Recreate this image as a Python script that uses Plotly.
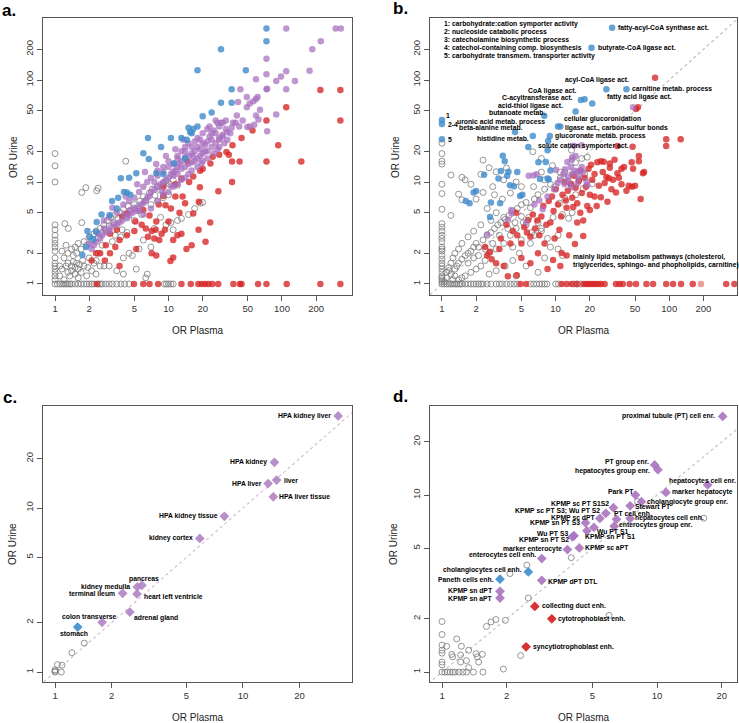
import math
import plotly.graph_objects as go

W, H = 739, 723

# ---------------- Panel a data (OR Plasma, OR Urine) ----------------
a_gray_row = [1, 1.05, 1.1, 1.15, 1.2, 1.25, 1.3, 1.35, 1.4, 1.5, 1.6, 1.7, 1.8, 1.9, 2.0, 2.1,
              2.2, 2.4, 2.5, 2.6, 2.8, 3.0, 3.2, 3.5, 3.8, 4.1, 4.5, 9.2, 9.6, 10.0, 10.5, 11.0]
a_gray_col = [1.1, 1.2, 1.3, 1.4, 1.5, 1.6, 1.8, 2.1, 2.3, 2.5, 2.7, 3.0, 3.4, 3.8, 10, 14.4, 19]
a_gray = [(1.1, 1.2), (1.15, 1.4), (1.2, 1.1), (1.25, 1.5), (1.3, 1.3), (1.3, 1.6), (1.35, 1.2), (1.4, 1.5),
          (1.4, 1.35), (1.45, 1.65), (1.5, 1.25), (1.5, 1.45), (1.55, 1.6), (1.6, 1.4), (1.6, 1.15), (1.65, 1.55),
          (1.7, 1.3), (1.75, 1.7), (1.8, 1.5), (1.9, 1.2), (1.95, 1.45), (2.0, 1.8), (2.1, 1.35), (2.2, 1.6),
          (2.3, 1.25), (2.4, 2.0), (2.5, 1.5), (1.3, 2.0), (1.4, 2.2), (1.5, 2.3), (1.6, 2.5), (1.7, 2.2),
          (1.8, 2.6), (1.9, 2.4), (2.0, 2.9), (2.1, 2.7), (2.2, 3.1), (2.3, 3.3), (2.4, 2.8), (2.5, 3.5),
          (2.6, 3.2), (2.7, 3.8), (2.8, 3.4), (2.9, 4.2), (3.0, 3.7), (3.1, 4.5), (3.3, 4.0), (3.4, 4.8),
          (3.6, 4.4), (3.8, 5.0), (4.0, 5.4), (4.2, 4.6), (4.4, 5.8), (4.6, 5.2), (5.0, 6.0), (5.3, 5.6),
          (5.6, 6.5), (6.0, 7.2), (6.3, 6.6), (6.8, 7.8), (7.2, 8.5), (7.6, 7.4), (8.0, 9.0), (8.5, 8.3),
          (9.0, 9.6), (9.5, 10.2), (10.2, 9.5), (11, 10.5), (3.0, 1.5), (3.5, 1.35), (4.0, 1.8), (4.5, 2.0),
          (4.8, 1.9), (5.5, 2.2), (6.5, 1.25), (5.2, 1.4), (7, 2.3), (7.5, 3.5), (8.5, 4.5), (9.5, 3.8),
          (10.5, 4.0), (11, 3.4), (12, 4.2), (13, 4.4), (15, 4.8), (17, 5.5), (19, 6.2), (20, 6.3),
          (3.8, 2.9), (4.3, 3.2), (2.7, 1.5), (2.3, 1.7), (6.3, 1.15), (4.0, 1.25), (1.22, 3.9), (1.31, 3.5),
          (1.72, 4.0), (1.72, 7.9), (1.87, 8.8), (2.33, 8.2), (2.4, 8.7), (4.2, 16), (3.4, 3.0), (3.9, 3.4),
          (1.2, 1.8), (1.1, 1.5), (1.25, 2.4), (1.15, 2.1), (1.45, 1.9), (1.55, 2.0), (2.6, 2.4), (3.2, 2.6),
          (6.0, 2.7), (7.0, 6.0), (8.0, 6.5), (9.0, 7.0), (10.0, 7.5), (5.0, 4.2), (5.8, 4.8), (12, 9.3)]
a_blue = [(73, 320), (73, 240), (29, 200), (18, 125), (48, 125), (36, 81), (36, 60), (29, 60), (24, 48),
          (20, 44), (18, 35), (15, 34), (16, 30), (13, 27), (10.5, 27), (6.6, 27), (8.6, 22), (6.0, 19.1),
          (6.7, 16.8), (11.2, 15.3), (5.2, 12.2), (7.8, 12.2), (3.8, 10.9), (4.5, 11), (4.05, 8.0), (4.3, 7.9),
          (4.6, 7.5), (3.6, 7.0), (3.18, 6.5), (2.57, 4.8), (3.03, 4.75), (2.33, 4.05), (2.3, 3.26), (1.93, 3.3),
          (2.02, 2.9), (2.17, 2.74), (1.74, 1.92), (1.88, 2.3), (3.5, 5.5), (9, 12), (14, 17), (15.5, 31),
          (16.5, 33), (14.5, 26)]
a_purple = [(109, 320), (297, 320), (330, 320), (220, 240), (185, 200), (73, 162), (175, 123), (109, 122),
            (73, 114), (130, 98), (89, 98), (98, 108), (59, 102), (73, 81), (74, 82), (109, 81), (43, 81),
            (61, 68), (59, 65), (56, 62), (52, 59), (49, 54), (49, 68), (41, 61), (64, 51), (89, 46), (59, 45),
            (62, 41), (57, 36.5), (52, 35), (49.5, 34.6), (74, 31.4), (32, 40), (29, 38), (27, 38), (39, 38),
            (42, 35), (36, 34), (33, 31), (30, 29), (28, 27), (26, 30), (24, 26), (22, 25), (21, 23), (20, 24),
            (19, 21), (18, 22), (17, 20), (16, 19), (15, 18), (14, 17.5), (13, 16), (12.5, 15), (12, 14),
            (11.5, 13), (11, 12.5), (10.5, 12), (10, 11), (9.5, 10.5), (9, 10), (8.5, 9.5), (8, 9), (7.5, 8.5),
            (7, 8), (6.8, 7.3), (6.5, 7), (6.2, 6.5), (6, 6.2), (5.7, 6), (5.5, 5.5), (5.2, 5.2), (5, 5.6),
            (4.8, 5), (4.6, 5.3), (4.5, 4.7), (4.3, 4.4), (4.1, 4.8), (3.9, 4.2), (3.7, 4), (3.5, 3.8), (3.3, 3.9),
            (3.1, 3.6), (3, 3.3), (2.8, 3.2), (2.7, 3.5), (2.6, 3.0), (2.5, 2.8), (2.4, 3.1), (2.3, 2.6),
            (2.2, 2.4), (2.1, 2.2), (2.0, 2.5), (6.5, 10), (7, 11), (8, 13), (9, 14), (10, 16), (11, 15),
            (12, 18), (13, 20), (14, 22), (15, 24), (16, 22), (17, 25), (18, 27), (20, 30), (22, 33), (25, 32),
            (28, 35), (23, 28), (19, 26), (14, 20), (12, 17), (10, 14), (9, 12.5), (8, 11.5), (7.5, 10), (6, 9),
            (5.5, 8), (5, 7), (4.5, 6.5), (4, 6), (3.5, 5), (3, 4.5), (5.5, 5.2), (12, 12), (11, 11.5),
            (13, 13.5), (14, 14), (15, 15), (16, 15.5), (17, 16), (18, 17), (19, 18), (20, 19), (22, 20),
            (24, 22), (26, 24), (28, 26), (30, 28), (32, 33), (24, 30), (21, 20), (15, 12), (13, 10.5), (11, 9),
            (9, 7.5), (8, 6.5), (7, 5.5), (6, 4.8), (10, 8), (12, 9.5), (14, 11), (16, 13), (18, 14), (20, 16),
            (22, 17), (25, 19), (28, 22), (33, 26), (35, 30), (37, 38), (40, 45), (45, 40), (30, 38), (26, 40),
            (23, 35), (4.2, 7.2), (5.3, 9.5), (6.2, 12.5), (7.8, 15), (9.5, 18), (11.5, 21), (13.5, 26),
            (3.2, 5.6), (2.7, 4.2), (8.8, 8.2), (10.5, 9.2), (16.5, 17.8), (19.5, 15.2), (27, 21), (31, 24)]
a_red_row = [2.33, 4.96, 6.0, 6.8, 8.1, 13, 15.7, 18.3, 19.6, 21, 22.4, 24.3, 27.4, 37.3, 42.5, 44,
             61.5, 73, 110, 218, 327]
a_red = [(327, 80), (218, 80), (109, 54), (327, 40), (73, 40), (55, 32), (44, 27), (36.6, 22.9), (32.4, 19.7),
         (34, 18.5), (92.6, 22.9), (148, 15.9), (73, 15.9), (36.3, 15.9), (42.3, 15.9), (36.3, 10), (27.5, 8.1),
         (28, 18.5), (23.4, 15.2), (15.2, 10), (18.9, 8.9), (19, 12.9), (16.5, 11.3), (14.7, 15.9), (13, 10.8),
         (9.0, 7.3), (11.5, 7.2), (13.3, 7.2), (24.5, 17.7), (18.5, 6.4), (16.5, 4.9), (23.3, 4.0), (18.4, 3.4),
         (21.2, 2.6), (16, 2.4), (14.4, 2.2), (13, 3.1), (12, 3), (11, 2.7), (11, 1.82), (10.4, 1.68), (10, 4.1),
         (9.3, 3.4), (7.7, 3.4), (7.1, 3.3), (6.6, 2.9), (6.3, 3.5), (7.5, 2.8), (8.3, 2.7), (7.1, 2.0),
         (7.8, 1.9), (5.1, 4.1), (9.4, 5.9), (5, 3.3), (5.2, 2.2), (4.3, 3.0), (3.7, 2.7), (3.7, 1.5), (3.4, 2.3),
         (3.05, 2.0), (3.05, 3.1), (2.75, 1.7), (2.5, 2.0), (2.1, 1.7), (3.5, 3.4), (3.9, 4.6), (6, 5.3),
         (6.8, 4.7), (7.8, 4.1), (8.7, 3.1), (4.3, 4.9), (8.2, 6.0), (10.5, 5.5), (12.5, 5.0), (2.8, 2.4),
         (2.3, 2.0), (5.8, 3.8), (9, 9.0), (11.5, 9.5), (20, 13.5), (14, 6.2)]

# ---------------- Panel b data ----------------
b_gray_row = [1.05, 1.1, 1.15, 1.2, 1.25, 1.3, 1.35, 1.4, 1.45, 1.5, 1.6, 1.7, 1.8, 1.9, 2.0, 2.1, 2.2,
              2.3, 2.5, 2.7, 3.0, 3.2, 3.4, 3.7, 4.0, 4.3, 4.6, 6.0, 6.4, 6.8, 7.2, 7.6, 8.0, 8.4, 10,
              10.6, 14.5, 15.5, 16.5]
b_gray_col = [1, 1.05, 1.1, 1.15, 1.2, 1.3, 1.4, 1.5, 1.6, 1.75, 1.9, 2.1, 2.2, 2.3, 2.6, 2.8, 3.0, 3.3,
              3.6, 3.9, 5.4, 7.7, 9.5, 15, 16, 19, 24]
b_gray = [(1.2, 11.7), (1.5, 11.1), (2.2, 11.9), (3.0, 12.6), (3.7, 13.7), (2.3, 16.4), (2.6, 13.8),
          (2.3, 7.9), (2.0, 6.8), (1.4, 7.6), (1.5, 6.7), (1.2, 4.7), (2.9, 7.5), (3.4, 6.8), (4.0, 7.8),
          (6.4, 9), (9.4, 14.5), (6.3, 19.8), (13.8, 20.5), (7.5, 12.5), (8.0, 10.5), (5.0, 9.0), (4.5, 10.0),
          (3.5, 10.5), (2.8, 9.0), (1.8, 9.5), (1.6, 10.5), (2.5, 5.5), (3.0, 5.0), (3.5, 4.5), (2.7, 4.2),
          (2.2, 3.8), (1.9, 3.3), (1.7, 2.9), (1.5, 2.5), (1.4, 2.2), (1.3, 2.0), (1.25, 1.8), (1.2, 1.6),
          (1.15, 1.45), (1.1, 1.3), (1.3, 1.4), (1.4, 1.6), (1.5, 1.75), (1.6, 1.9), (1.7, 2.0), (1.8, 2.1),
          (1.9, 2.3), (2.0, 2.5), (2.1, 2.3), (2.3, 2.7), (2.5, 3.0), (2.7, 3.2), (2.9, 3.5), (3.1, 3.8),
          (3.3, 4.0), (3.6, 4.3), (3.9, 4.7), (4.2, 5.2), (4.6, 5.5), (5.0, 6.0), (5.5, 6.3), (6.0, 5.6),
          (6.5, 6.8), (7.0, 7.5), (8, 8.5), (9, 9.5), (10, 9), (11, 11), (12, 12.5), (13, 11.5), (4.0, 3.0),
          (4.5, 3.5), (5.2, 4.0), (5.8, 4.5), (6.2, 3.2), (7.0, 4.0), (7.5, 3.5), (8.5, 2.8), (9.5, 4.5),
          (10.5, 3.0), (11.5, 4.8), (13, 4.4), (14, 5.0), (3.5, 2.5), (3.0, 2.2), (2.6, 2.0), (2.4, 1.7),
          (2.2, 1.5), (2.0, 1.4), (1.8, 1.3), (1.6, 1.2), (1.5, 1.15), (1.4, 1.1), (1.3, 1.2), (1.7, 1.6),
          (1.9, 1.8), (2.1, 1.9), (2.4, 2.2), (2.8, 2.5), (3.2, 3.0), (3.8, 3.5), (4.4, 4.0), (5.0, 4.6),
          (5.5, 3.8), (6.0, 2.5), (4.8, 2.0), (4.2, 1.7), (3.6, 1.5), (3.0, 1.35), (2.6, 1.25), (4.5, 1.2),
          (5.5, 1.5), (7.0, 1.3), (8.0, 1.8), (10.5, 2.2), (11.5, 1.9), (9, 2.3), (5, 2.7), (6.5, 3.0),
          (7.5, 3.3), (4.2, 2.3), (17, 17), (19, 17.5), (15, 15.5), (21, 9.6), (17.5, 8.6), (13.8, 9.2),
          (12, 7), (10.8, 6.2), (15, 7.5), (16, 10.5), (18, 12), (7.5, 17), (11, 12.5), (1.05, 1.05),
          (1.1, 1.15), (1.2, 1.25), (1.15, 1.35), (1.35, 1.5), (1.25, 1.1)]
b_blue = [(3.43, 18.1), (3.57, 16), (3.85, 12.6), (3.75, 11.5), (3.14, 10.8), (3.97, 9.3), (4.3, 9.1),
          (2.35, 11.8), (2.0, 8.15), (1.9, 7.9), (1.62, 6.5), (1.75, 6.2), (4.87, 7.3), (5.1, 7.5),
          (3.25, 6.2), (2.65, 4.55), (2.7, 6.3), (7.06, 15.6), (8.5, 20.5), (8.2, 15.7), (7.3, 10.7),
          (8.5, 10.8), (8.7, 10.6), (8.6, 25.3), (5.75, 22), (6.3, 28.3), (8.9, 28.3), (10.5, 35), (11, 35),
          (4.4, 31), (7.95, 44.7), (15, 49), (21, 59), (16.7, 63.7), (18, 64.6), (28, 81), (42, 81),
          (20.7, 207), (31.4, 326), (1, 40.5), (1, 37), (1, 26.2), (4.6, 12.5), (3.3, 12.8), (9, 13)]
b_purple = [(48, 54), (16.9, 22.9), (14.5, 22.7), (14, 17.5), (12.7, 15.7), (13.6, 14.1), (14.6, 12.9),
            (15.4, 12.6), (16.4, 12.9), (12.1, 13.3), (11.7, 12), (12.9, 11.1), (15.6, 9.7), (18.7, 10.1),
            (19, 9.3), (13.8, 8.9), (7.7, 5.4), (5.8, 11.5), (6.4, 11.6), (6.8, 11.9), (10.1, 13.1),
            (13.9, 16.5), (4.06, 5.3), (3.8, 4.3), (4.1, 4.9), (2.5, 3.06), (9.7, 8.5), (10.4, 9.8),
            (15, 18), (17, 14), (11, 10.5), (12, 9.5), (16, 11.2), (17.5, 12.5), (6.5, 6.0), (7.2, 6.6),
            (5.5, 4.0), (13, 10), (14, 12), (8.5, 7.2)]
b_red_row = [4.9, 5.5, 11.3, 12.5, 13.8, 15.3, 17.5, 18.5, 19.3, 20.3, 21.3, 22.4, 23.6, 25, 27, 34, 36.5,
             39, 44.8, 51, 63, 72, 94, 108, 127, 161, 317, 374]
b_red_faint = [(190, 1)]
b_red = [(126, 26.2), (94, 26.2), (94, 22.6), (47.6, 22.2), (35, 22.5), (53, 54), (75, 105), (51, 52),
         (26.5, 15.8), (23.3, 15.6), (20.5, 14.8), (30, 15.2), (46.7, 15.6), (54, 16), (54, 18), (58.7, 12.2),
         (35, 12.2), (38, 13.5), (29.4, 10.9), (32, 10.5), (44, 9.2), (47, 9), (34, 7.9), (56, 6.8),
         (28.6, 6.4), (25, 7.1), (22, 7.2), (20, 5.3), (16.5, 5), (15.5, 4), (14.3, 5.7), (12.5, 5.6),
         (14.8, 2.47), (17.5, 2.95), (11.3, 2.01), (9.5, 1.72), (11, 1.5), (2.65, 2.07), (2.74, 1.75),
         (3.2, 2.2), (3.8, 1.19), (4.55, 1.22), (3.7, 3.8), (4.5, 5.0), (5.75, 4.24), (2.4, 2.3), (2.5, 1.9),
         (3.0, 1.6), (3.5, 1.5), (3.3, 2.8), (4.0, 2.5), (4.2, 3.3), (4.6, 3.0), (5.0, 2.5), (5.3, 3.6),
         (5.6, 3.2), (6.0, 2.9), (6.3, 4.8), (6.6, 3.5), (6.9, 4.2), (7.2, 3.0), (7.5, 4.6), (7.8, 5.8),
         (8.0, 2.5), (8.3, 3.8), (8.7, 6.5), (9.0, 4.0), (9.3, 7.2), (9.6, 5.2), (10.0, 8.5), (10.5, 6.0),
         (10.8, 3.4), (11.2, 4.6), (11.5, 7.5), (12.0, 10.0), (12.3, 6.6), (12.8, 8.2), (13.2, 3.0),
         (13.6, 9.6), (14.0, 7.0), (14.5, 11.5), (15.0, 8.8), (15.5, 6.2), (16.0, 10.2), (16.5, 13.0),
         (17.0, 7.8), (17.5, 4.2), (18.0, 11.0), (18.5, 9.0), (19.0, 5.8), (19.5, 13.5), (20.0, 7.5),
         (21.0, 10.5), (22.0, 12.0), (23.0, 5.8), (24.0, 9.2), (25.0, 16.0), (26.0, 12.5), (27.0, 9.8),
         (28.0, 11.2), (30.0, 13.8), (31.0, 8.5), (33.0, 16.5), (36.0, 11.0), (38.0, 9.5), (40.0, 14.0),
         (42.0, 8.2), (48.0, 13.5), (50.0, 9.2), (60, 12.5), (9.8, 2.8), (7.0, 2.0), (6.0, 1.6), (5.0, 1.8),
         (12.5, 1.9), (8.5, 1.4)]
b_legend = ["1: carbohydrate:cation symporter activity",
            "2: nucleoside catabolic process",
            "3: catecholamine biosynthetic process",
            "4: catechol-containing comp. biosynthesis",
            "5: carbohydrate transmem. transporter activity"]
# label text, anchor position (OR Plasma, OR Urine), alignment
b_labels = [("fatty-acyl-CoA synthase act.", 34, 326, "left"),
            ("butyrate-CoA ligase act.", 22.7, 207, "left"),
            ("acyl-CoA ligase act.", 23.2, 100, "center"),
            ("CoA ligase act.", 16.2, 78.5, "right"),
            ("carnitine metab. process", 45.2, 81, "left"),
            ("C-acyltransferase act.", 14.8, 67, "right"),
            ("fatty acid ligase act.", 27, 67.6, "left"),
            ("acid-thiol ligase act.", 12.2, 56, "right"),
            ("butanoate metab.", 8.45, 47.8, "right"),
            ("uronic acid metab. process", 8.45, 38.5, "right"),
            ("beta-alanine metab.", 5.35, 34.1, "right"),
            ("cellular glucoronidation", 11.4, 41.5, "left"),
            ("ligase act., carbon-sulfur bonds", 11.6, 34.1, "left"),
            ("histidine metab.", 6.1, 26.8, "right"),
            ("glucoronate metab. process", 9.5, 28.4, "left"),
            ("solute cation symporter act.", 6.77, 22.7, "left"),
            ("1", 1.04, 45, "left"),
            ("2-4", 1.08, 37, "left"),
            ("5", 1.08, 26, "left"),
            ("mainly lipid metabolism pathways (cholesterol,", 13.7, 1.85, "left"),
            ("triglycerides, sphingo- and phopholipids, carnitine)", 13.7, 1.54, "left")]

# ---------------- Panel c data ----------------
c_names = ["HPA kidney liver", "HPA kidney", "liver", "HPA liver", "HPA liver tissue", "HPA kidney tissue",
           "kidney cortex", "pancreas", "kidney medulla", "terminal ileum", "heart left ventricle",
           "adrenal gland", "colon transverse"]
c_plasma = [32.1, 14.7, 15.1, 13.6, 14.5, 7.96, 5.89, 2.9, 2.74, 2.29, 2.73, 2.5, 1.78]
c_urine = [36.4, 19.0, 14.8, 14.1, 11.7, 8.9, 6.52, 3.38, 3.3, 3.02, 2.99, 2.32, 2.01]
c_blue_names = ["stomach"]
c_blue_plasma = [1.32]
c_blue_urine = [1.88]
c_gray = [(1.43, 1.5), (1.23, 1.31), (1.03, 1.11), (1.09, 1.1), (1.0, 1.03), (1.0, 1.0), (1.08, 1.0),
          (1.0, 1.01)]
c_lab_pos = {"HPA kidney liver": ("right", -5, 0), "HPA kidney": ("right", -5, 0), "liver": ("left", 5, 0),
             "HPA liver": ("right", -4.5, 0), "HPA liver tissue": ("left", 4, 0),
             "HPA kidney tissue": ("right", -4.5, 0), "kidney cortex": ("right", -5, 0),
             "pancreas": ("center", 2, 6.5), "kidney medulla": ("right", -5, 0),
             "terminal ileum": ("right", -6, 0), "heart left ventricle": ("left", 4.7, -2.7),
             "adrenal gland": ("left", 1.7, -6.3), "colon transverse": ("center", -13, 6),
             "stomach": ("center", -4, -6.3)}

# ---------------- Panel d data ----------------
d_names = ["proximal tubule (PT) cell enr.", "PT group enr.", "hepatocytes group enr.", "hepatocytes cell enr.",
           "marker hepatocyte", "Park PT", "cholangiocyte group enr.", "Stewart PT", "KPMP sc PT S1S2",
           "KPMP sc PT S3; Wu PT S2", "PT cell enh.", "KPMP sc dPT", "hepatocytes cell enh.", "KPMP sn PT S3",
           "enterocytes group enr.", "Wu PT S1", "KPMP sn PT S1", "Wu PT S3", "KPMP sn PT S2",
           "marker enterocyte", "KPMP sc aPT", "enterocytes cell enh.", "KPMP dPT DTL", "KPMP sn dPT",
           "KPMP sn aPT"]
d_plasma = [20.2, 9.75, 10.1, 17.2, 11.0, 7.94, 8.46, 7.5, 6.27, 5.78, 6.48, 5.42, 7.5, 4.65, 6.32, 5.09,
            4.72, 4.11, 4.04, 3.83, 4.35, 2.91, 2.91, 1.86, 1.86]
d_urine = [27.8, 14.8, 13.9, 11.4, 10.35, 10.0, 9.17, 8.7, 8.48, 7.88, 7.31, 7.38, 7.38, 6.97, 6.67, 6.56,
           6.28, 5.89, 5.81, 4.92, 5.03, 4.38, 3.3, 2.86, 2.62]
d_blue_names = ["cholangiocytes cell enh.", "Paneth cells enh."]
d_blue_plasma = [2.52, 1.86]
d_blue_urine = [3.68, 3.35]
d_red_names = ["collecting duct enh.", "cytotrophoblast enh.", "syncytiotrophoblast enh."]
d_red_plasma = [2.7, 3.24, 2.46]
d_red_urine = [2.35, 2.0, 1.39]
d_gray = [(2.48, 4.02), (3.99, 4.43), (2.07, 3.6), (2.52, 2.62), (5.98, 2.09), (16.5, 7.4), (1, 1.93),
          (1, 1.63), (1, 1.42), (1, 1.33), (1, 1.28), (1, 1.14), (1, 1.1), (1.05, 1.4), (1.17, 1.54),
          (1.23, 1.4), (1.33, 1.33), (1.11, 1.26), (1.12, 1.22), (1.22, 1.25), (1.22, 1.14), (1.3, 1.16),
          (1.44, 1.27), (1.46, 1.22), (1.48, 1.14), (1.54, 1.26), (1.33, 1.06), (1.61, 1.81), (1.69, 1.92),
          (1.78, 1.98), (1.97, 1.96), (1.93, 1.04), (2.32, 1.24), (1, 1), (1.03, 1), (1.06, 1), (1.09, 1),
          (1.12, 1), (1.15, 1), (1.2, 1), (1.25, 1), (1.3, 1), (1.4, 1), (1.55, 1), (8.1, 9.2)]
d_lab_pos = {"proximal tubule (PT) cell enr.": ("right", -6, 0), "PT group enr.": ("right", -4, 3.3),
             "hepatocytes group enr.": ("right", -5.6, -1), "hepatocytes cell enr.": ("center", -5, 4),
             "marker hepatocyte": ("left", 4, 0), "Park PT": ("right", 1, 4),
             "cholangiocyte group enr.": ("left", 3.3, 0), "Stewart PT": ("left", 3, -0.6),
             "KPMP sc PT S1S2": ("right", -2.7, 4), "KPMP sc PT S3; Wu PT S2": ("right", -3.7, 2.3),
             "PT cell enh.": ("left", -4.4, 5.3), "KPMP sc dPT": ("right", -2.3, 1.3),
             "hepatocytes cell enh.": ("left", 3.3, 0), "KPMP sn PT S3": ("right", -3.4, 0),
             "enterocytes group enr.": ("left", 3, 1), "Wu PT S1": ("left", 0.7, -3.7),
             "KPMP sn PT S1": ("left", -3.7, -6), "Wu PT S3": ("right", -4, 2.4),
             "KPMP sn PT S2": ("right", -1.3, -2.6), "marker enterocyte": ("right", -3, 1),
             "KPMP sc aPT": ("left", 4, 0), "enterocytes cell enh.": ("right", -3.4, 3.3),
             "cholangiocytes cell enh.": ("right", -4, 2.4), "Paneth cells enh.": ("right", -4, 0),
             "KPMP dPT DTL": ("left", 4.3, -1), "KPMP sn dPT": ("right", -5, 1),
             "KPMP sn aPT": ("right", -5, 0), "collecting duct enh.": ("left", 5.3, 0),
             "cytotrophoblast enh.": ("left", 4.3, 0), "syncytiotrophoblast enh.": ("left", 4.7, 0)}

tick_ab = [1, 2, 5, 10, 20, 50, 100, 200]
tick_cd = [1, 2, 5, 10, 20]

# ---------------- styling ----------------
BLUE = "rgba(66,140,202,0.82)"
PURPLE = "rgba(168,110,190,0.72)"
RED = "rgba(214,36,36,0.78)"
GRAY = "rgba(125,125,125,0.9)"
LAB_FONT = dict(family="Liberation Sans, Arial", size=6.8, color="black")

fig = go.Figure()


def add_filled(xs, ys, color, xa, ya, size=6.5, symbol="circle"):
    fig.add_trace(go.Scatter(x=xs, y=ys, mode="markers", xaxis=xa, yaxis=ya, showlegend=False,
                             hoverinfo="skip",
                             marker=dict(size=size, color=color, symbol=symbol, line=dict(width=0))))


def add_open(xs, ys, xa, ya, size=6):
    fig.add_trace(go.Scatter(x=xs, y=ys, mode="markers", xaxis=xa, yaxis=ya, showlegend=False,
                             hoverinfo="skip",
                             marker=dict(size=size, color=GRAY, symbol="circle-open",
                                         line=dict(width=0.9, color=GRAY))))


def add_diag(xa, ya, color):
    fig.add_trace(go.Scatter(x=[0.5, 1000], y=[0.5, 1000], mode="lines", xaxis=xa, yaxis=ya,
                             showlegend=False, hoverinfo="skip",
                             line=dict(color=color, width=1.2, dash="dot")))


def xs_ys(pts):
    return [p[0] for p in pts], [p[1] for p in pts]


# panel a
g = a_gray + [(x, 1) for x in a_gray_row] + [(1, y) for y in a_gray_col]
add_open(*xs_ys(g), "x", "y")
add_filled(*xs_ys(a_red + [(x, 1) for x in a_red_row]), RED, "x", "y")
add_filled(*xs_ys(a_purple), PURPLE, "x", "y")
add_filled(*xs_ys(a_blue), BLUE, "x", "y")

# panel b
add_diag("x2", "y2", "rgba(185,185,185,0.9)")
g = b_gray + [(x, 1) for x in b_gray_row] + [(1, y) for y in b_gray_col]
add_open(*xs_ys(g), "x2", "y2")
add_filled(*xs_ys(b_red + [(x, 1) for x in b_red_row]), RED, "x2", "y2")
add_filled(*xs_ys(b_red_faint), "rgba(214,36,36,0.45)", "x2", "y2")
add_filled(*xs_ys(b_purple), PURPLE, "x2", "y2")
add_filled(*xs_ys(b_blue), BLUE, "x2", "y2")

# panel c
add_diag("x3", "y3", "rgba(215,180,215,0.9)")
add_open(*xs_ys(c_gray), "x3", "y3")
add_filled(c_plasma, c_urine, "rgba(178,135,196,0.92)", "x3", "y3", size=7.5, symbol="diamond")
add_filled(c_blue_plasma, c_blue_urine, "rgba(70,145,205,0.95)", "x3", "y3", size=7.5, symbol="diamond")

# panel d
add_diag("x4", "y4", "rgba(190,190,190,0.9)")
add_open(*xs_ys(d_gray), "x4", "y4")
add_filled(d_plasma, d_urine, "rgba(168,115,190,0.9)", "x4", "y4", size=7.5, symbol="diamond")
add_filled(d_blue_plasma, d_blue_urine, "rgba(70,145,205,0.95)", "x4", "y4", size=7.5, symbol="diamond")
add_filled(d_red_plasma, d_red_urine, "rgba(214,40,40,0.95)", "x4", "y4", size=7.5, symbol="diamond")


def px_x(p):
    return p / W


def px_y(p):
    return 1 - p / H


def axis(dom, rng, ticks, anchor, is_y):
    d = dict(type="log", domain=dom, range=rng, tickvals=ticks, ticktext=[str(t) for t in ticks],
             anchor=anchor, ticks="outside", ticklen=5, tickwidth=1, tickcolor="#555555",
             showline=True, mirror=True, linecolor="#555555", linewidth=1, showgrid=False, zeroline=False,
             tickfont=dict(family="Liberation Sans, Arial", size=9.5, color="#333333"))
    if is_y:
        d["tickangle"] = -90
    return d


xl_top, xr = [px_x(43), px_x(352)], [px_x(430), px_x(737)]
y_top, y_bot = [px_y(295), px_y(18)], [px_y(682), px_y(406)]

fig.update_layout(
    width=W, height=H, margin=dict(l=0, r=0, t=0, b=0), paper_bgcolor="white",
    plot_bgcolor="white", showlegend=False,
    xaxis=axis(xl_top, [-0.106, 2.617], tick_ab, "y", False),
    yaxis=axis(y_top, [-0.108, 2.608], tick_ab, "x", True),
    xaxis2=axis(xr, [-0.105, 2.596], tick_ab, "y2", False),
    yaxis2=axis(y_top, [-0.108, 2.608], tick_ab, "x2", True),
    xaxis3=axis(xl_top, [-0.064, 1.58], tick_cd, "y3", False),
    yaxis3=axis(y_bot, [-0.061, 1.622], tick_cd, "x3", True),
    xaxis4=axis(xr, [-0.056, 1.372], tick_cd, "y4", False),
    yaxis4=axis(y_bot, [-0.056, 1.503], tick_cd, "x4", True),
)

ann = []
for t, x, y in [("a.", 0, 11), ("b.", 391, 9), ("c.", 1, 397), ("d.", 391, 396)]:
    ann.append(dict(text="<b>" + t + "</b>", x=px_x(x), y=px_y(y), xref="paper", yref="paper",
                    xanchor="left", yanchor="middle", showarrow=False,
                    font=dict(family="Liberation Sans, Arial", size=17, color="black")))
for cx, cy in [(197.5, 331), (583.5, 331), (197.5, 717), (583.5, 717)]:
    ann.append(dict(text="OR Plasma", x=px_x(cx), y=px_y(cy), xref="paper", yref="paper",
                    xanchor="center", yanchor="middle", showarrow=False,
                    font=dict(family="Liberation Sans, Arial", size=10, color="#222222")))
for cx, cy in [(13, 157), (395, 157), (12, 544), (393, 544)]:
    ann.append(dict(text="OR Urine", x=px_x(cx), y=px_y(cy), xref="paper", yref="paper", textangle=-90,
                    xanchor="center", yanchor="middle", showarrow=False,
                    font=dict(family="Liberation Sans, Arial", size=10, color="#222222")))
for i, t in enumerate(b_legend):
    ann.append(dict(text="<b>" + t + "</b>", x=px_x(442), y=px_y(24 + 8 * i), xref="paper", yref="paper",
                    xanchor="left", yanchor="middle", showarrow=False, font=LAB_FONT))
for t, x, y, al in b_labels:
    ann.append(dict(text="<b>" + t + "</b>", x=math.log10(x), y=math.log10(y), xref="x2", yref="y2",
                    xanchor=al, yanchor="middle", showarrow=False, font=LAB_FONT))
for n, x, y in zip(c_names + c_blue_names, c_plasma + c_blue_plasma, c_urine + c_blue_urine):
    al, dx, dy = c_lab_pos[n]
    ann.append(dict(text="<b>" + n + "</b>", x=math.log10(x), y=math.log10(y), xref="x3", yref="y3",
                    xanchor=al, yanchor="middle", xshift=dx, yshift=dy, showarrow=False, font=LAB_FONT))
for n, x, y in zip(d_names + d_blue_names + d_red_names, d_plasma + d_blue_plasma + d_red_plasma,
                   d_urine + d_blue_urine + d_red_urine):
    al, dx, dy = d_lab_pos[n]
    ann.append(dict(text="<b>" + n + "</b>", x=math.log10(x), y=math.log10(y), xref="x4", yref="y4",
                    xanchor=al, yanchor="middle", xshift=dx, yshift=dy, showarrow=False, font=LAB_FONT))
fig.update_layout(annotations=ann)

fig.write_html("out.html", config={"displayModeBar": False},
               post_script="document.body.style.margin='0';document.body.style.overflow='hidden';")
